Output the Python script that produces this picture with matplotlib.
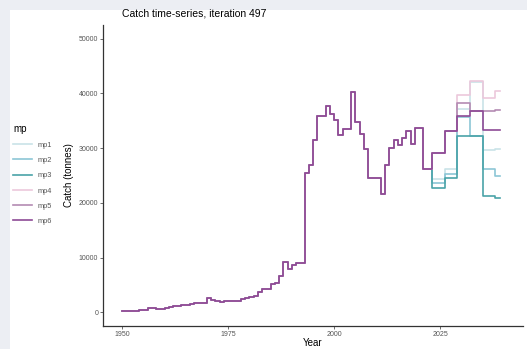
import matplotlib.pyplot as plt
from matplotlib.patches import Rectangle
import numpy as np

plt.rcParams['font.family'] = ['Liberation Sans', 'DejaVu Sans']

# historical catch, 1950-2022
hist_years = list(range(1950, 2023))
hist_catch = [200, 200, 250, 300, 400, 500, 750, 700, 600, 650,
              800, 1000, 1150, 1200, 1250, 1400, 1450, 1700, 1700, 1750,
              2700, 2300, 2100, 1800, 2000, 2000, 2050, 2050, 2500, 2700,
              2800, 2900, 3700, 4200, 4300, 5200, 5300, 6600, 9200, 8000,
              8600, 9100, 9100, 25500, 26900, 31500, 35800, 35800, 37700, 36200,
              35200, 32400, 33500, 33500, 40200, 34800, 32500, 29800, 24500, 24500,
              24500, 21600, 26900, 30100, 31500, 30500, 31800, 33200, 30800, 33700,
              33700, 26200, 26200]

# projections, 2023-2039 (catch set every 3 years)
proj_years = list(range(2023, 2040))
proj_blocks = {
    'mp1': [24300, 26200, 37200, 42000, 29700, 29900],
    'mp2': [23700, 25200, 35600, 32200, 26100, 24900],
    'mp3': [22800, 24600, 32300, 32200, 21200, 20900],
    'mp4': [29100, 33200, 39800, 42200, 39200, 40400],
    'mp5': [29100, 33200, 38300, 36700, 36700, 37000],
    'mp6': [29100, 33200, 35800, 36700, 33300, 33400],
}
mp_colors = {
    'mp1': '#c9e3e8',
    'mp2': '#8cc6d6',
    'mp3': '#4aa3a8',
    'mp4': '#ecc8dc',
    'mp5': '#b48bb3',
    'mp6': '#8e4a96',
}

fig = plt.figure(figsize=(5.27, 3.49), dpi=100)
fig.patch.set_facecolor('#eceef3')
fig.patches.append(Rectangle((10 / 527, 0), 1, 1 - 10 / 349, transform=fig.transFigure,
                             facecolor='white', edgecolor='none', zorder=-5))
ax = fig.add_axes([103 / 527, 23 / 349, 420 / 527, 301 / 349])
ax.patch.set_alpha(0)

for mp, blocks in proj_blocks.items():
    vals = [blocks[min((y - 2023) // 3, 5)] for y in proj_years]
    ys = hist_years + proj_years
    cs = hist_catch + vals
    ax.step(ys, cs, where='post', color=mp_colors[mp], lw=1.2, label=mp)

ax.set_xlim(1945.5, 2044.5)
ax.set_ylim(-2500, 52500)
ax.set_xticks([1950, 1975, 2000, 2025])
ax.set_yticks([0, 10000, 20000, 30000, 40000, 50000])
for s in ['top', 'right']:
    ax.spines[s].set_visible(False)
for s in ['left', 'bottom']:
    ax.spines[s].set_color('#333333')
    ax.spines[s].set_linewidth(0.9)
ax.tick_params(labelsize=5, colors='#555555', length=2, width=0.6, pad=1.5)
ax.set_xlabel('Year', fontsize=7, labelpad=0)
ax.set_ylabel('Catch (tonnes)', fontsize=7, labelpad=3)
ax.set_title('Catch time-series, iteration 497', fontsize=7.5, loc='left', x=0.045, pad=6)

leg = fig.legend(loc='upper left', bbox_to_anchor=(0.012, 0.665), frameon=False,
                 title='mp', fontsize=5.3, title_fontsize=7, handlelength=2.6,
                 handletextpad=0.7, labelspacing=1.1, alignment='left')
for t in leg.get_texts():
    t.set_color('#555555')

fig.savefig('out.png', dpi=100)
